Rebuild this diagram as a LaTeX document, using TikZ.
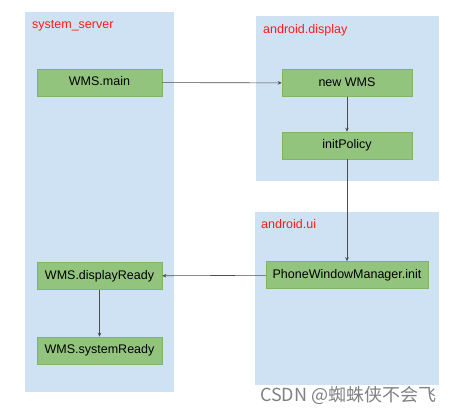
\documentclass[tikz,border=0pt]{standalone}
\usepackage{fontspec}
\setmainfont{Liberation Sans}
\newfontfamily\cjkfont{Noto Sans CJK SC}
\usepackage{xcolor}
\usetikzlibrary{arrows.meta}
\definecolor{panelblue}{HTML}{CFE2F3}
\definecolor{boxgreen}{HTML}{93C47D}
\definecolor{boxline}{HTML}{80B468}
\definecolor{titlered}{HTML}{FF1A1A}

\begin{document}
\begin{tikzpicture}[x=1pt,y=-1pt]
\tikzset{panel/.style={fill=panelblue,draw=none}}
\tikzset{thread/.style={text=titlered,font=\fontsize{12.5}{14}\selectfont,anchor=base west,inner sep=0pt}}
\tikzset{stepbox/.style={fill=boxgreen,draw=boxline,line width=0.5pt,minimum height=27pt,inner sep=0pt,text height=9pt,text depth=2.5pt,font=\fontsize{12.5}{14}\selectfont}}
\tikzset{flow/.style={draw=black!70,line width=0.6pt,-{Stealth[length=4pt,width=3.5pt]}}}

\useasboundingbox (0,0) rectangle (467,414);

% threads
\path[panel] (25,12) rectangle (174,392);
\path[panel] (256,16) rectangle (439,181);
\path[panel] (255,212) rectangle (439,385);

\node[thread] (sysserver) at (32,29) {system\_server};
\node[thread] (display) at (263,34) {android.display};
\node[thread] (ui) at (261,229) {android.ui};

% steps
\node[stepbox,minimum width=125pt] (wmsmain) at (99.5,82.5) {WMS.main};
\node[stepbox,minimum width=130pt] (newwms) at (347,83) {new WMS};
\node[stepbox,minimum width=130pt] (initpolicy) at (347,145.5) {initPolicy};
\node[stepbox,minimum width=162pt] (pwminit) at (347,275) {PhoneWindowManager.init};
\node[stepbox,minimum width=125pt] (dispready) at (99.5,276) {WMS.displayReady};
\node[stepbox,minimum width=125pt] (sysready) at (99.5,350.5) {WMS.systemReady};

\draw[flow] (wmsmain) -- (newwms);
\draw[flow] (newwms) -- (initpolicy);
\draw[flow] (initpolicy) -- (pwminit);
\draw[flow] (pwminit) -- (dispready);
\draw[flow] (dispready) -- (sysready);

\node[anchor=west,inner sep=0pt,text=black!50,font=\cjkfont\fontsize{18}{20}\selectfont] (mark) at (260,395) {CSDN @蜘蛛侠不会飞};

\end{tikzpicture}
\end{document}
